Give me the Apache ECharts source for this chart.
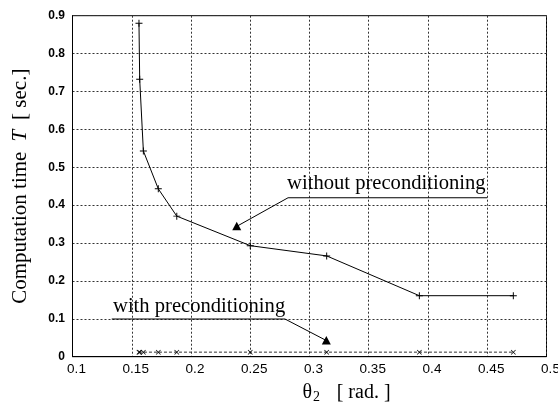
<!DOCTYPE html>
<html>
<head>
<meta charset="utf-8">
<script src="https://cdn.jsdelivr.net/npm/echarts@6/dist/echarts.min.js"></script>
<style>
  html, body { margin: 0; padding: 0; background: #fff; }
  #chart { width: 558px; height: 405px; }
</style>
</head>
<body>
<div id="chart"></div>
<script>
// Joint angle theta_2 [rad] and measured computation time T [sec]
const theta2 = [0.1561, 0.1567, 0.1598, 0.1724, 0.188, 0.25, 0.3145, 0.3927, 0.472];
const timeWithout = [0.88, 0.732, 0.543, 0.443, 0.371, 0.293, 0.266, 0.161, 0.161];
const timeWith = [0.012, 0.012, 0.012, 0.012, 0.012, 0.012, 0.012, 0.012, 0.012];

// Axis ranges
const xRange = [0.1, 0.5, 0.05];
const yRange = [0, 0.9, 0.1];

// Callout labels, placed in data units: text anchor, underline, pointer head
const callouts = [
  { text: 'without preconditioning', at: [0.2811, 0.458],
    under: [[0.2819, 0.4195], [0.45, 0.4195]], head: [0.2386, 0.344] },
  { text: 'with preconditioning', at: [0.1342, 0.131],
    under: [[0.1331, 0.0995], [0.2793, 0.0995]], head: [0.3142, 0.0427] }
];

const serif = '"Liberation Serif", "Times New Roman", serif';
const sans = '"Liberation Sans", Arial, sans-serif';

const plusSymbol = 'path://M0,4.3H10V5.7H0Z M4.3,0H5.7V10H4.3Z';
const crossSymbol = 'path://M1,0L5,4L9,0L10,1L6,5L10,9L9,10L5,6L1,10L0,9L4,5L0,1Z';

const pairs = (xs, ys) => xs.map((x, i) => [x, ys[i]]);
const fmt = v => String(+v.toFixed(2));

const chart = echarts.init(document.getElementById('chart'), null, { renderer: 'canvas' });

const gridLine = { show: true, lineStyle: { color: '#333', width: 1, type: [2, 2] } };

chart.setOption({
  animation: false,
  backgroundColor: '#fff',
  grid: {
    left: 72.5, right: 11.5, top: 15.7, bottom: 48.3,
    show: true, borderColor: '#000', borderWidth: 1,
    containLabel: false, outerBoundsMode: 'none'
  },
  xAxis: {
    type: 'value',
    min: xRange[0], max: xRange[1], interval: xRange[2],
    axisLine: { show: true, lineStyle: { color: '#000', width: 1 } },
    axisTick: { show: false },
    splitLine: gridLine,
    axisLabel: {
      color: '#000', fontFamily: sans, fontSize: 13.5, margin: 6,
      padding: [0, 0, 0, 8], formatter: fmt
    },
    name: '{th|θ}{sub|2}     {a|[ rad. ]}',
    nameLocation: 'middle',
    nameGap: 24,
    nameTextStyle: {
      padding: [0, 0, 0, 74],
      rich: {
        th: { fontFamily: serif, fontSize: 20, color: '#000' },
        sub: { fontFamily: serif, fontSize: 14, color: '#000', padding: [10, 0, 0, 1] },
        a: { fontFamily: serif, fontSize: 20, color: '#000' }
      }
    }
  },
  yAxis: {
    type: 'value',
    min: yRange[0], max: yRange[1], interval: yRange[2],
    axisLine: { show: true, lineStyle: { color: '#000', width: 1 } },
    axisTick: { show: false },
    splitLine: gridLine,
    axisLabel: {
      color: '#000', fontFamily: sans, fontSize: 12, fontWeight: 'bold',
      margin: 7.5, formatter: fmt
    },
    name: '{a|Computation time}   {t|T}   {a|[ sec.]}',
    nameLocation: 'middle',
    nameGap: 42,
    nameTextStyle: {
      rich: {
        a: { fontFamily: serif, fontSize: 21, color: '#000' },
        t: { fontFamily: serif, fontSize: 21, fontStyle: 'italic', color: '#000' }
      }
    }
  },
  series: [
    {
      name: 'without preconditioning',
      type: 'line',
      data: pairs(theta2, timeWithout),
      symbol: plusSymbol, symbolSize: 7,
      lineStyle: { color: '#000', width: 1 },
      itemStyle: { color: '#000' },
      z: 3
    },
    {
      name: 'with preconditioning',
      type: 'line',
      data: pairs(theta2, timeWith),
      symbol: crossSymbol, symbolSize: 5,
      lineStyle: { color: '#333', width: 1, type: [3, 2] },
      itemStyle: { color: '#000' },
      z: 3
    }
  ]
});

// Callout text, underline and pointer, positioned through the grid's own scales
const toPx = p => chart.convertToPixel({ gridIndex: 0 }, p);
const graphics = [];
callouts.forEach(c => {
  const t = toPx(c.at);
  const u0 = toPx(c.under[0]);
  const u1 = toPx(c.under[1]);
  const h = toPx(c.head);
  graphics.push({
    type: 'text', x: t[0], y: t[1], z: 10,
    style: { text: c.text, font: '20.6px ' + serif, fill: '#000', verticalAlign: 'middle', align: 'left' }
  });
  graphics.push({
    type: 'line', z: 10,
    shape: { x1: u0[0], y1: u0[1], x2: u1[0], y2: u1[1] },
    style: { stroke: '#000', lineWidth: 1 }
  });
  const start = c.under[0][0] > c.head[0] ? u0 : u1;
  graphics.push({
    type: 'line', z: 10,
    shape: { x1: start[0], y1: start[1], x2: h[0], y2: h[1] },
    style: { stroke: '#000', lineWidth: 1 }
  });
  graphics.push({
    type: 'polygon', z: 11,
    shape: { points: [[h[0], h[1] - 4.5], [h[0] - 4.5, h[1] + 4], [h[0] + 4.5, h[1] + 4]] },
    style: { fill: '#000' }
  });
});
chart.setOption({ graphic: graphics });
</script>
</body>
</html>
